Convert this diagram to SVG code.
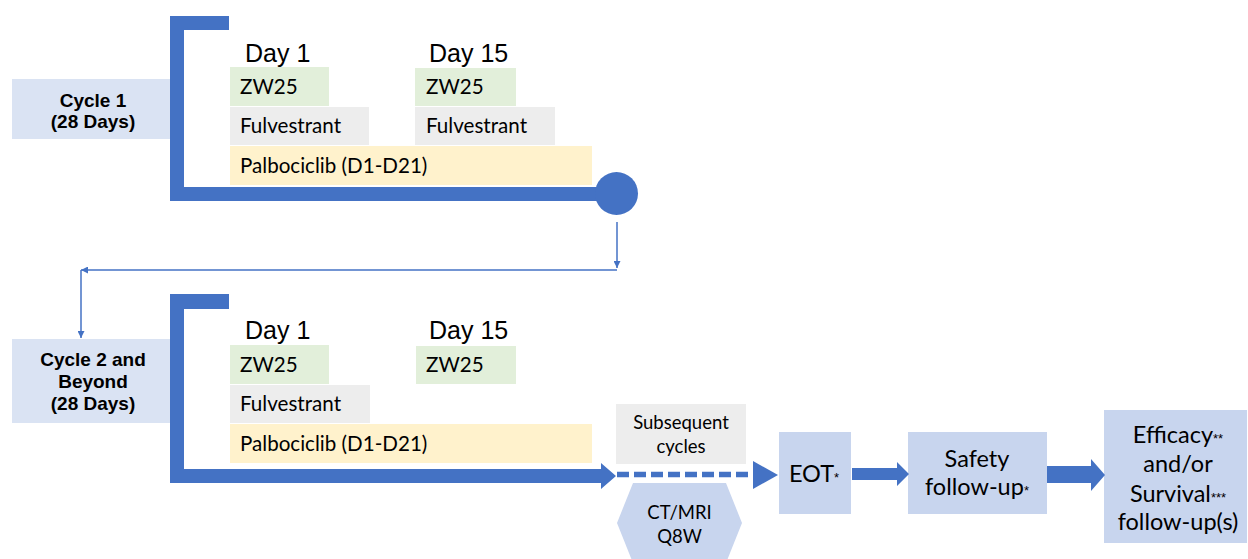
<svg xmlns="http://www.w3.org/2000/svg" width="1248" height="559" viewBox="0 0 1248 559">
<defs>
<style>
.cyc{fill:#DAE3F3}
.lb{fill:#C8D5EE}
.grn{fill:#E2EFDA}
.gry{fill:#EDEDED}
.yel{fill:#FFF2CC}
.blue{fill:#4472C4}
.ct{font-family:"Liberation Sans",Arial,sans-serif;font-weight:bold;font-size:19px;fill:#000;text-anchor:middle}
.day{font-family:"Liberation Sans",Arial,sans-serif;font-size:25px;fill:#000}
.drug{font-family:Lato,"Open Sans",sans-serif;font-size:20.6px;fill:#000}
.sm{font-family:Lato,"Open Sans",sans-serif;font-size:18.5px;fill:#000;text-anchor:middle}
.big{font-family:Lato,"Open Sans",sans-serif;font-size:23.5px;fill:#000;text-anchor:middle}
.ast{font-family:"Liberation Sans",Arial,sans-serif;font-size:13px}
.thin{stroke:#4472C4;stroke-width:1.5;fill:none}
</style>
<marker id="ah" viewBox="0 0 10 10" refX="10" refY="5" markerWidth="7" markerHeight="7" markerUnits="userSpaceOnUse" orient="auto">
<path d="M0,0 L10,5 L0,10 Z" fill="#4472C4"/>
</marker>
</defs>

<g id="cycle1">
<rect class="cyc" x="12" y="79" width="158" height="60"/>
<text class="ct" x="93" y="107">Cycle 1</text>
<text class="ct" x="93" y="128">(28 Days)</text>
<path class="blue" d="M170,16 H229 V30 H184 V187 H600 V201 H170 Z"/>
<circle class="blue" cx="616.5" cy="193.5" r="21.5"/>
<text class="day" x="245" y="62">Day 1</text>
<text class="day" x="429" y="62">Day 15</text>
<rect class="grn" x="230" y="67" width="99" height="39"/>
<text class="drug" x="240" y="94">ZW25</text>
<rect class="gry" x="230" y="107" width="139" height="38"/>
<text class="drug" x="240" y="133">Fulvestrant</text>
<rect class="grn" x="415" y="68" width="101" height="38"/>
<text class="drug" x="426" y="94">ZW25</text>
<rect class="gry" x="415" y="107" width="140" height="38"/>
<text class="drug" x="426" y="133">Fulvestrant</text>
<rect class="yel" x="230" y="146" width="362" height="39"/>
<text class="drug" x="240" y="173">Palbociclib (D1-D21)</text>
</g>

<g id="cycle2">
<rect class="cyc" x="12" y="339" width="158" height="84"/>
<text class="ct" x="93" y="366">Cycle 2 and</text>
<text class="ct" x="93" y="388">Beyond</text>
<text class="ct" x="93" y="410">(28 Days)</text>
<path class="blue" d="M170,294 H229 V309 H184 V469 H601 V463 L616,476 L601,489 V483 H170 Z"/>
<text class="day" x="245" y="339">Day 1</text>
<text class="day" x="429" y="339">Day 15</text>
<rect class="grn" x="230" y="345" width="99" height="39"/>
<text class="drug" x="240" y="372">ZW25</text>
<rect class="grn" x="416" y="346" width="100" height="38"/>
<text class="drug" x="426" y="372">ZW25</text>
<rect class="gry" x="230" y="385" width="140" height="38"/>
<text class="drug" x="240" y="411">Fulvestrant</text>
<rect class="yel" x="230" y="424" width="362" height="39"/>
<text class="drug" x="240" y="451">Palbociclib (D1-D21)</text>
</g>

<g id="subsequent">
<rect class="gry" x="616" y="404" width="130" height="60"/>
<text class="sm" x="681" y="429">Subsequent</text>
<text class="sm" x="681" y="453">cycles</text>
</g>

<g id="ctmri">
<polygon class="lb" points="633,483 726,483 742,523 726,563 633,563 617,523"/>
<text class="sm" x="679.5" y="519">CT/MRI</text>
<text class="sm" x="679.5" y="543">Q8W</text>
</g>

<g id="eot">
<rect class="lb" x="779" y="432" width="72" height="82"/>
<text class="big" x="814" y="482">EOT<tspan class="ast">*</tspan></text>
</g>

<g id="safety">
<rect class="lb" x="908" y="432" width="139" height="82"/>
<text class="big" x="977" y="467">Safety</text>
<text class="big" x="977" y="495">follow-up<tspan class="ast">*</tspan></text>
</g>

<g id="efficacy">
<rect class="lb" x="1104" y="410" width="143" height="133"/>
<text class="big" x="1178" y="443">Efficacy<tspan class="ast">**</tspan></text>
<text class="big" x="1178" y="472">and/or</text>
<text class="big" x="1178" y="502">Survival<tspan class="ast">***</tspan></text>
<text class="big" x="1178" y="530">follow-up(s)</text>
</g>

<g id="connectors">
<line class="thin" x1="617" y1="222" x2="617" y2="268" marker-end="url(#ah)"/>
<line class="thin" x1="617" y1="270" x2="81" y2="270" marker-end="url(#ah)"/>
<line class="thin" x1="81" y1="270" x2="81" y2="338" marker-end="url(#ah)"/>
<line x1="617" y1="474.5" x2="755" y2="474.5" stroke="#4472C4" stroke-width="5.5" stroke-dasharray="12 5"/>
<polygon class="blue" points="753,461 778,475 753,489"/>
<path class="blue" d="M852,468 H897 V462 L909,474 L897,486 V480 H852 Z"/>
<path class="blue" d="M1047,466 H1091 V459 L1105,475 L1091,491 V483 H1047 Z"/>
</g>
</svg>
